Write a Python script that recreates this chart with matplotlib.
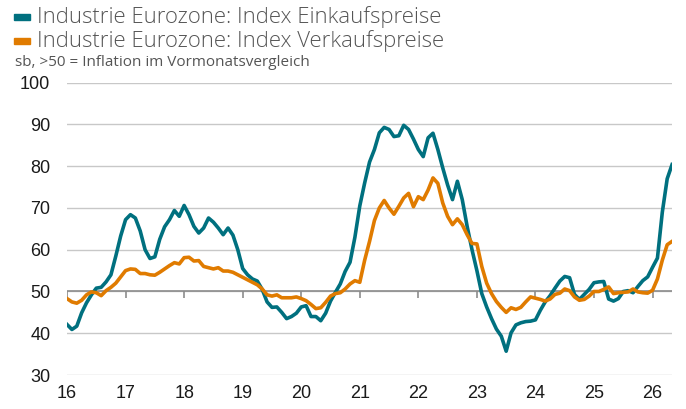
import numpy as np
import matplotlib
matplotlib.use("Agg")
import matplotlib.pyplot as plt
from matplotlib.patches import Rectangle

# monthly values, Jan 2016 .. May 2026
einkauf = [
    42.1, 40.9, 41.7, 44.9, 47.3, 49.2, 50.8, 51.0, 52.3, 54.0, 58.5, 63.3,
    67.2, 68.4, 67.6, 64.5, 60.0, 57.9, 58.3, 62.5, 65.5, 67.2, 69.4, 68.0,
    70.6, 68.4, 65.6, 64.0, 65.2, 67.6, 66.6, 65.2, 63.6, 65.2, 63.5, 60.0,
    55.5, 54.0, 53.0, 52.5, 50.5, 47.5, 46.2, 46.3, 45.0, 43.5, 44.0, 44.8,
    46.3, 46.6, 44.0, 44.0, 43.0, 44.8, 47.7, 49.8, 51.8, 54.8, 57.0, 63.0,
    70.5, 76.0, 81.0, 84.0, 88.0, 89.3, 88.8, 87.1, 87.3, 89.8, 88.8, 86.5,
    84.0, 82.3, 86.8, 87.9, 84.0, 79.6, 75.5, 72.0, 76.4, 72.0, 65.6, 60.0,
    55.0, 49.5, 46.3, 43.5, 41.0, 39.3, 35.7, 40.1, 42.0, 42.5, 42.8, 42.9,
    43.2, 45.5, 47.5, 49.0, 50.8, 52.5, 53.6, 53.3, 49.3, 48.1, 49.3, 50.5,
    52.1, 52.3, 52.4, 48.2, 47.7, 48.3, 50.0, 50.2, 49.7, 51.2, 52.6, 53.5,
    55.8, 58.0, 69.0, 77.0, 80.4,
]
verkauf = [
    48.3, 47.5, 47.2, 47.9, 49.2, 49.9, 49.7, 49.0, 50.2, 51.0, 52.0, 53.5,
    55.0, 55.4, 55.3, 54.3, 54.3, 54.0, 53.9, 54.6, 55.4, 56.2, 56.9, 56.6,
    58.1, 58.2, 57.3, 57.4, 56.0, 55.7, 55.4, 55.7, 54.9, 54.9, 54.6, 54.0,
    53.4, 52.8, 52.2, 51.6, 50.6, 49.2, 48.9, 49.2, 48.5, 48.5, 48.5, 48.7,
    48.3, 47.8, 46.9, 45.9, 46.1, 47.4, 48.9, 49.5, 49.7, 50.6, 51.8, 52.6,
    52.2, 57.5, 62.0, 67.0, 70.0, 71.8, 70.0, 68.5, 70.4, 72.4, 73.5, 70.3,
    72.7, 72.0, 74.3, 77.2, 75.9, 71.2, 68.0, 66.0, 67.4, 66.0, 63.6, 61.5,
    61.4, 56.0, 52.0, 49.5, 47.6, 46.2, 45.0, 46.1, 45.7, 46.2, 47.5, 48.7,
    48.4, 48.1, 47.7, 48.2, 49.3, 49.6, 50.6, 50.2, 48.7, 47.9, 48.1, 48.9,
    50.0, 50.0, 50.5, 51.1, 49.5, 49.7, 49.8, 49.9, 50.6, 49.9, 49.7, 49.6,
    50.3, 53.0, 57.5, 61.2, 62.0,
]
jahre = ["16", "17", "18", "19", "20", "21", "22", "23", "24", "25", "26"]
labels = ["Industrie Eurozone: Index Einkaufspreise",
          "Industrie Eurozone: Index Verkaufspreise"]

TEAL = "#00707f"
ORANGE = "#e07b00"

fig = plt.figure(figsize=(6.86, 4.09), dpi=100)
ax = fig.add_axes([0.0977, 0.0831, 0.882, 0.7147])

monate = np.arange(len(einkauf))
ax.plot(monate, einkauf, color=TEAL, lw=2.6, solid_joinstyle="round", zorder=3)
ax.plot(monate, verkauf, color=ORANGE, lw=2.6, solid_joinstyle="round", zorder=4)

ax.set_xlim(0, len(einkauf) - 1)
ax.set_ylim(30, 100)
ax.set_yticks(range(30, 101, 10))
ax.grid(axis="y", color="#c8c8c8", lw=1)
ax.set_axisbelow(True)
for s in ax.spines.values():
    s.set_visible(False)

# 50er Linie mit Jahresmarken
ax.axhline(50, color="#8c8c8c", lw=1.2, zorder=2)
year_pos = np.arange(len(jahre)) * 12
ax.vlines(year_pos, 48.5, 50, color="#8c8c8c", lw=1.2, zorder=2)

ax.set_xticks(year_pos)
ax.set_xticklabels(jahre)
ax.tick_params(axis="both", length=0, labelsize=13, colors="#1a1a1a")
ax.tick_params(axis="y", pad=12)
ax.tick_params(axis="x", pad=7)
for t in ax.get_xticklabels() + ax.get_yticklabels():
    t.set_family("Liberation Sans")

# Legende oben links
for i, (lab, col) in enumerate(zip(labels, [TEAL, ORANGE])):
    y = 1 - (17 + i * 24) / 409
    fig.patches.append(Rectangle((14 / 686, y - 3 / 409), 16 / 686, 6 / 409,
                                 transform=fig.transFigure, color=col))
    fig.text(37 / 686, y, lab, fontsize=15.9, color="#555555",
             va="center", ha="left", family="Open Sans", fontweight="light")
fig.text(15 / 686, 1 - 63 / 409, "sb, >50 = Inflation im Vormonatsvergleich",
         fontsize=11, color="#555555", va="center", ha="left", family="Open Sans")

fig.savefig("out.png", dpi=100)
